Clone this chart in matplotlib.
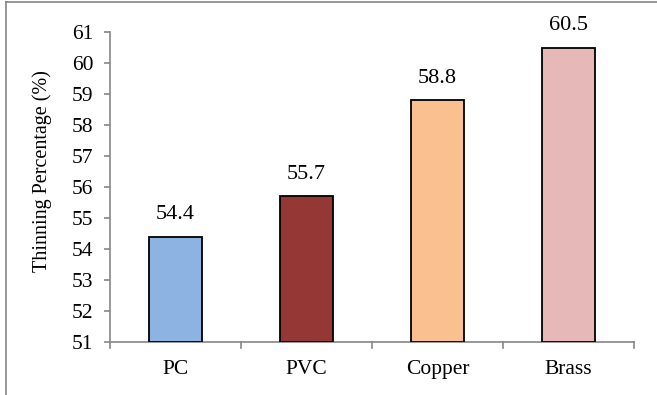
import matplotlib
matplotlib.use("Agg")
import matplotlib.pyplot as plt
from matplotlib.lines import Line2D

materials = ["PC", "PVC", "Copper", "Brass"]
thinning = [54.4, 55.7, 58.8, 60.5]
bar_colors = ["#8DB3E2", "#953735", "#FAC090", "#E6B9B8"]
y_ticks = [51, 52, 53, 54, 55, 56, 57, 58, 59, 60, 61]

plt.rcParams["font.family"] = ["Liberation Serif", "DejaVu Serif"]

fig = plt.figure(figsize=(6.57, 3.95), dpi=100)
ax = fig.add_axes([110 / 657, 1 - 342 / 395, 524 / 657, 310 / 395])

x = list(range(len(materials)))
bars = ax.bar(x, [v - 51 for v in thinning], bottom=51, width=0.4,
              color=bar_colors, edgecolor="black", linewidth=1.3, zorder=3)

for xi, v in zip(x, thinning):
    ax.annotate(f"{v}", (xi, v), xytext=(0, 9), textcoords="offset points",
                ha="center", va="bottom", fontsize=16)

ax.set_xlim(-0.5, len(materials) - 0.5)
ax.set_ylim(51, 61)
ax.set_yticks(y_ticks)
ax.set_yticklabels([str(t) for t in y_ticks], fontsize=15.5)
ax.set_xticks(x)
ax.set_xticklabels(materials, fontsize=15.5)
ax.tick_params(axis="x", length=0, pad=13)
ax.tick_params(axis="y", length=4, color="#868686", width=1.2, pad=8)

# category boundary ticks hanging below the x axis
for b in [i - 0.5 for i in range(len(materials) + 1)]:
    ax.plot([b, b], [51, 50.82], color="#868686", lw=1.2, clip_on=False, zorder=2)

for s in ["top", "right"]:
    ax.spines[s].set_visible(False)
for s in ["left", "bottom"]:
    ax.spines[s].set_color("#868686")
    ax.spines[s].set_linewidth(1.2)

ax.set_ylabel("Thinning Percentage (%)", fontsize=14.5)
ax.yaxis.set_label_coords(-0.11, 0.55)

# outer chart-area frame (left and top edges)
fig.add_artist(Line2D([6 / 657, 6 / 657], [0, 1 - 2 / 395], color="#868686", lw=1.2))
fig.add_artist(Line2D([6 / 657, 1], [1 - 2 / 395, 1 - 2 / 395], color="#868686", lw=1.2))

fig.savefig("out.png", dpi=100)
